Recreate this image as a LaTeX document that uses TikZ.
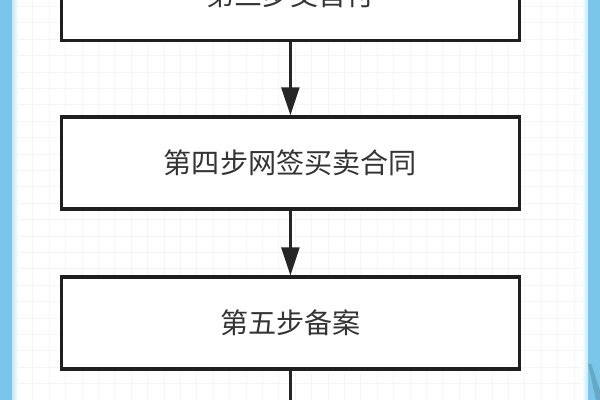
\documentclass[tikz,border=0pt]{standalone}
\usepackage{fontspec}
\newfontfamily\cjk{Noto Sans CJK SC}
\usetikzlibrary{positioning,arrows.meta}
\definecolor{sky}{RGB}{122,198,234}
\definecolor{ink}{RGB}{52,52,52}
\tikzset{
  stepbox/.style={draw=black!88,line width=2.4pt,fill=white,minimum width=11.45cm,
    minimum height=2.3cm,inner sep=0pt,text=ink,font=\cjk\fontsize{20}{24}\selectfont},
  flow/.style={draw=black!85,line width=1.7pt,-{Triangle[width=0.45cm,length=0.7cm]}}
}

\begin{document}
\begin{tikzpicture}
        \useasboundingbox (0,0) rectangle (15,10);
        \clip (0,0) rectangle (15,10);
        \fill[white] (0,0) rectangle (15,10);
        \draw[black!4,line width=0.5pt] (0.3,0) grid[step=0.41cm] (14.7,10);
        \fill[sky] (0,0) rectangle (0.3,10);
        \shade[left color=sky!45,right color=white] (0.3,0) rectangle (0.45,10);
        \fill[sky] (14.7,0) rectangle (15,10);
        \shade[left color=white,right color=sky!45] (14.55,0) rectangle (14.7,10);
        \fill[sky!85!black] (14.7,0.9) -- (14.78,0.9) -- (15,0.25) -- (15,0) -- (14.9,0) -- cycle;
        \node [stepbox] (s3) at (7.26,10.13) {第三步交首付};
        \node [stepbox,below=1.82cm of s3] (s4) {第四步网签买卖合同};
        \node [stepbox,below=1.62cm of s4] (s5) {第五步备案};
        \coordinate [below=1cm of s5] (tail);
        \draw[flow] (s3) -- (s4);
        \draw[flow] (s4) -- (s5);
        \draw[draw=black!85,line width=1.7pt] (s5) -- (tail);
      \end{tikzpicture}
\end{document}
